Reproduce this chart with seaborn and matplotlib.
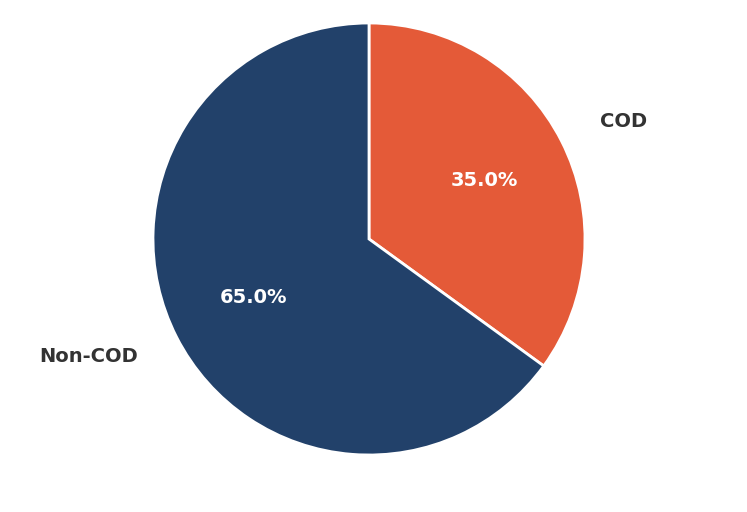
import matplotlib
matplotlib.use("Agg")
import matplotlib.pyplot as plt
import seaborn as sns

sns.set_theme(style="white")
plt.rcParams['font.family'] = ['DejaVu Sans']

categories = ["COD", "Non-COD"]
values = [35.0, 65.0]
colors = ["#E45A38", "#22416A"]

fig = plt.figure(figsize=(7.47, 5.12), dpi=100)
ax = fig.add_axes([153/747, 57/512, 432/747, 432/512])
wedges, texts, autotexts = ax.pie(
    values, labels=categories, colors=colors, startangle=90, counterclock=False,
    autopct="%1.1f%%", pctdistance=0.6, labeldistance=1.2,
    wedgeprops=dict(edgecolor="white", linewidth=2),
    textprops=dict(fontsize=14, fontweight="bold", color="#333333"))
for t in autotexts:
    t.set_color("white")
ax.set_xlim(-1, 1)
ax.set_ylim(-1, 1)
ax.set_aspect("equal")
ax.axis("off")
fig.savefig("out.png", dpi=100)
